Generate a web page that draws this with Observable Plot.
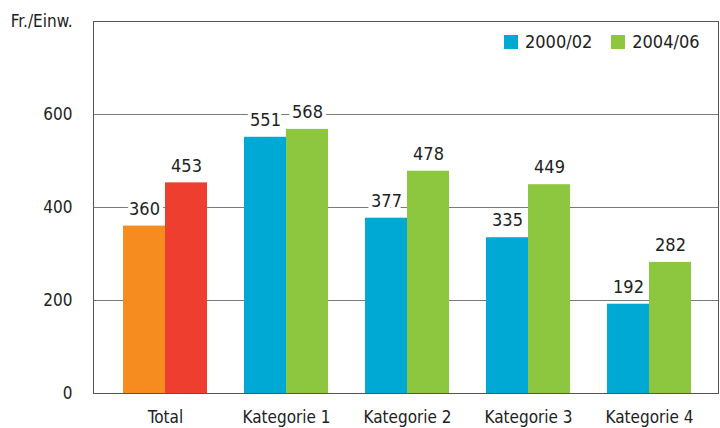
<!DOCTYPE html>
<html>
<head>
<meta charset="utf-8">
<script src="https://cdn.jsdelivr.net/npm/d3@7"></script>
<script src="https://cdn.jsdelivr.net/npm/@observablehq/plot@0.6"></script>
<style>
  html, body { margin: 0; padding: 0; background: #fff; }
  #wrap { position: relative; width: 720px; height: 428px; font-family: "DejaVu Sans Condensed", "Liberation Sans Narrow", "DejaVu Sans", sans-serif; color: #222; }
  #wrap svg { position: absolute; top: 0; left: 0; }
  #legend { position: absolute; top: 31px; left: 504px; display: flex; align-items: center; font-size: 18px; }
  #legend .item { display: flex; align-items: center; }
  #legend .sw { width: 14px; height: 14px; margin-right: 7px; }
  #legend .item + .item { margin-left: 19px; }
</style>
</head>
<body>
<div id="wrap"></div>
<script>
const categories = ["Total", "Kategorie 1", "Kategorie 2", "Kategorie 3", "Kategorie 4"];
const periods = ["2000/02", "2004/06"];
const values2000 = [360, 551, 377, 335, 192];
const values2004 = [453, 568, 478, 449, 282];
const totalColors = ["#F68B1F", "#EE3E2F"];
const seriesColors = ["#00A9D4", "#8DC63F"];
const yTicks = [0, 200, 400, 600, 800];
const yTickLabels = ["0", "200", "400", "600", "Fr./Einw."];
const gridValues = [200, 400, 600];

const series = [values2000, values2004];
const rows = [];
categories.forEach((c, i) => {
  periods.forEach((p, j) => {
    rows.push({
      category: c,
      period: p,
      value: series[j][i],
      color: (i === 0 ? totalColors : seriesColors)[j]
    });
  });
});

const font = "\"DejaVu Sans Condensed\", \"Liberation Sans Narrow\", \"DejaVu Sans\", sans-serif";
const common = {
  width: 720,
  height: 428,
  marginLeft: 93,
  marginRight: 2,
  marginTop: 21,
  marginBottom: 35
};

// Background layer: frame, grid lines and y tick labels
const back = Plot.plot({
  ...common,
  style: { fontFamily: font, fontSize: "17px", color: "#222", background: "#fff" },
  y: { domain: [0, 800] },
  marks: [
    Plot.ruleY(gridValues, { stroke: "#7a7a7a", strokeWidth: 1 }),
    Plot.frame({ stroke: "#555", strokeWidth: 1 }),
    Plot.axisY(yTicks, {
      tickSize: 0, tickPadding: 21, label: null, fontSize: 17, fill: "#222",
      tickFormat: (d, i) => yTickLabels[yTicks.indexOf(d)]
    })
  ]
});

// Foreground layer: grouped bars and value labels
const front = Plot.plot({
  ...common,
  style: { fontFamily: font, fontSize: "17px", color: "#222", background: "transparent" },
  fx: { domain: categories, padding: 0.309, insetLeft: 29, insetRight: 26, label: null, tickSize: 0, tickPadding: 17 },
  x: { domain: periods, padding: 0, axis: null },
  y: { domain: [0, 800], axis: null },
  color: { type: "identity" },
  marks: [
    Plot.barY(rows, { fx: "category", x: "period", y: "value", fill: "color" }),
    Plot.ruleY([0], { stroke: "#555", strokeWidth: 1 }),
    Plot.text(rows, {
      fx: "category", x: "period", y: "value", text: d => String(d.value),
      dy: -17, fontSize: 18, fill: "#222", stroke: "white", strokeWidth: 8
    })
  ]
});

const wrap = document.getElementById("wrap");
wrap.append(back, front);

const legend = document.createElement("div");
legend.id = "legend";
periods.forEach((p, j) => {
  const item = document.createElement("div");
  item.className = "item";
  const sw = document.createElement("div");
  sw.className = "sw";
  sw.style.background = seriesColors[j];
  const t = document.createElement("span");
  t.textContent = p;
  item.append(sw, t);
  legend.append(item);
});
wrap.append(legend);
</script>
</body>
</html>
